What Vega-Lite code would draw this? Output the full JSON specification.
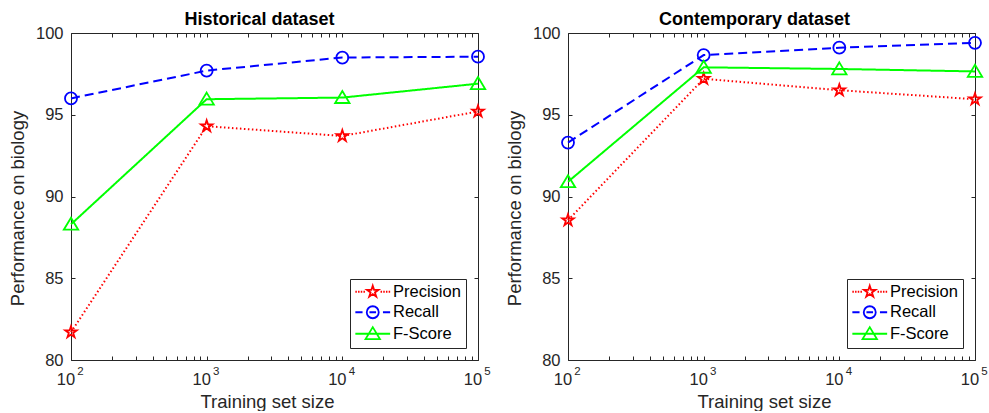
{
  "$schema": "https://vega.github.io/schema/vega-lite/v6.json",
  "background": "white",
  "padding": {"left": 7, "top": 10, "right": 0, "bottom": 0},
  "autosize": {"type": "pad"},
  "bounds": "flush",
  "spacing": 90,
  "config": {
    "font": "Liberation Sans",
    "view": {"stroke": "#262626", "strokeWidth": 1},
    "axis": {"grid": false, "domain": false, "labelFont": "Liberation Sans", "titleFont": "Liberation Sans", "labelColor": "#262626", "titleColor": "#262626", "tickColor": "#262626", "titleFontWeight": "normal", "labelOverlap": false, "labelFlush": false},
    "legend": {"title": null, "orient": "bottom-right", "offset": 12, "padding": 4.5, "strokeColor": "#262626", "fillColor": "white", "cornerRadius": 0, "labelFontSize": 16.5, "labelColor": "#000000", "labelFont": "Liberation Sans", "symbolSize": 144, "symbolStrokeWidth": 1.8, "symbolOffset": 10, "labelOffset": 12, "rowPadding": 1.5, "symbolOpacity": 1},
    "title": {"font": "Liberation Sans"}
  },
  "datasets": {
    "d": [
      {"Dataset": "Historical", "Metric": "Precision", "N": 100, "Value": 81.7},
      {"Dataset": "Historical", "Metric": "Precision", "N": 1000, "Value": 94.3},
      {"Dataset": "Historical", "Metric": "Precision", "N": 10000, "Value": 93.7},
      {"Dataset": "Historical", "Metric": "Precision", "N": 100000, "Value": 95.2},
      {"Dataset": "Historical", "Metric": "Recall", "N": 100, "Value": 96.0},
      {"Dataset": "Historical", "Metric": "Recall", "N": 1000, "Value": 97.7},
      {"Dataset": "Historical", "Metric": "Recall", "N": 10000, "Value": 98.5},
      {"Dataset": "Historical", "Metric": "Recall", "N": 100000, "Value": 98.55},
      {"Dataset": "Historical", "Metric": "F-Score", "N": 100, "Value": 88.3},
      {"Dataset": "Historical", "Metric": "F-Score", "N": 1000, "Value": 95.95},
      {"Dataset": "Historical", "Metric": "F-Score", "N": 10000, "Value": 96.05},
      {"Dataset": "Historical", "Metric": "F-Score", "N": 100000, "Value": 96.9},
      {"Dataset": "Contemporary", "Metric": "Precision", "N": 100, "Value": 88.55},
      {"Dataset": "Contemporary", "Metric": "Precision", "N": 1000, "Value": 97.2},
      {"Dataset": "Contemporary", "Metric": "Precision", "N": 10000, "Value": 96.5},
      {"Dataset": "Contemporary", "Metric": "Precision", "N": 100000, "Value": 95.95},
      {"Dataset": "Contemporary", "Metric": "Recall", "N": 100, "Value": 93.3},
      {"Dataset": "Contemporary", "Metric": "Recall", "N": 1000, "Value": 98.65},
      {"Dataset": "Contemporary", "Metric": "Recall", "N": 10000, "Value": 99.1},
      {"Dataset": "Contemporary", "Metric": "Recall", "N": 100000, "Value": 99.4},
      {"Dataset": "Contemporary", "Metric": "F-Score", "N": 100, "Value": 90.9},
      {"Dataset": "Contemporary", "Metric": "F-Score", "N": 1000, "Value": 97.9},
      {"Dataset": "Contemporary", "Metric": "F-Score", "N": 10000, "Value": 97.8},
      {"Dataset": "Contemporary", "Metric": "F-Score", "N": 100000, "Value": 97.65}
    ]
  },
  "resolve": {"legend": {"color": "independent", "shape": "independent"}},
  "hconcat": [
    {
      "width": 407,
      "height": 327,
      "title": {"text": "Historical dataset", "fontSize": 18, "fontWeight": "bold", "color": "#000000", "offset": -3.75, "anchor": "middle", "dx": -15},
      "data": {"name": "d"},
      "transform": [{"filter": "datum.Dataset === 'Historical'"}],
      "resolve": {"axis": {"x": "independent", "y": "independent"}},
      "layer": [
        {
          "mark": {"type": "line", "strokeWidth": 2},
          "encoding": {
            "x": {"field": "N", "type": "quantitative", "scale": {"type": "log", "domain": [100, 100000], "nice": false},
              "axis": {"orient": "bottom", "values": [100,200,300,400,500,600,700,800,900,1000,2000,3000,4000,5000,6000,7000,8000,9000,10000,20000,30000,40000,50000,60000,70000,80000,90000,100000], "labelExpr": "indexof([100,1000,10000,100000], datum.value) >= 0 ? '10' : ''", "labelFontSize": 16.5, "labelOffset": -5.5, "tickSize": -4, "labelPadding": 15.5, "title": "Training set size", "titleFontSize": 18.5, "titlePadding": 4, "titleX": 196}},
            "y": {"field": "Value", "type": "quantitative", "scale": {"domain": [80, 100], "nice": false, "zero": false},
              "axis": {"orient": "left", "values": [80,85,90,95,100], "labelFontSize": 16.5, "tickSize": -4, "labelPadding": 12, "title": "Performance on biology", "titleFontSize": 18.5, "titlePadding": 8, "titleY": 175}},
            "detail": {"field": "Metric", "type": "nominal"},
            "color": {"condition": [{"test": "datum.Metric === 'Precision'", "value": "#ff0000"}, {"test": "datum.Metric === 'Recall'", "value": "#0000ff"}], "value": "#00ff00"},
            "strokeDash": {"condition": [{"test": "datum.Metric === 'Precision'", "value": [1.5, 2.5]}, {"test": "datum.Metric === 'Recall'", "value": [9, 5]}], "value": [1, 0]}
          }
        },
        {
          "mark": {"type": "point", "filled": false, "opacity": 1, "strokeWidth": 1.8, "size": 144},
          "encoding": {
            "x": {"field": "N", "type": "quantitative", "axis": {"orient": "bottom", "values": [100,1000,10000,100000], "labelExpr": "datum.value == 100 ? '2' : datum.value == 1000 ? '3' : datum.value == 10000 ? '4' : '5'", "labelFontSize": 11.5, "labelOffset": 9, "ticks": false, "labelPadding": 5.2, "title": null}},
            "y": {"field": "Value", "type": "quantitative", "axis": {"orient": "right", "values": [80,85,90,95,100], "labels": false, "tickSize": -4, "title": null}},
            "color": {"condition": [{"test": "datum.Metric === 'Precision'", "value": "#ff0000"}, {"test": "datum.Metric === 'Recall'", "value": "#0000ff"}], "value": "#00ff00"},
            "shape": {"condition": [{"test": "datum.Metric === 'Precision'", "value": "M0,-1L0.2245,-0.309L0.951,-0.309L0.363,0.118L0.588,0.809L0,0.382L-0.588,0.809L-0.363,0.118L-0.951,-0.309L-0.2245,-0.309Z"}, {"test": "datum.Metric === 'Recall'", "value": "circle"}], "value": "M0,-1.1L1.2,0.9L-1.2,0.9Z"}
          }
        },
        {
          "mark": {"type": "point", "opacity": 0, "filled": false, "size": 144},
          "encoding": {
            "x": {"field": "N", "type": "quantitative", "axis": {"orient": "top", "values": [100,200,300,400,500,600,700,800,900,1000,2000,3000,4000,5000,6000,7000,8000,9000,10000,20000,30000,40000,50000,60000,70000,80000,90000,100000], "labels": false, "tickSize": -4, "title": null}},
            "y": {"field": "Value", "type": "quantitative", "axis": null},
            "color": {"field": "Metric", "type": "nominal", "scale": {"domain": ["Precision","Recall","F-Score"], "range": ["#ff0000","#0000ff","#00ff00"]}},
            "shape": {"field": "Metric", "type": "nominal", "scale": {"domain": ["Precision","Recall","F-Score"], "range": ["M-2.9,0L-2.65,0M-2.45,0L-2.2,0M-2,0L-1.75,0M-1.55,0L-1.3,0M1.3,0L1.55,0M1.75,0L2,0M2.2,0L2.45,0M2.65,0L2.9,0M0,-1L0.2245,-0.309L0.951,-0.309L0.363,0.118L0.588,0.809L0,0.382L-0.588,0.809L-0.363,0.118L-0.951,-0.309L-0.2245,-0.309Z", "M-2.9,0L-1.7,0M1.7,0L2.9,0M-0.55,0L0.55,0M1,0A1,1,0,1,1,-1,0A1,1,0,1,1,1,0Z", "M-2.9,0L2.9,0M0,-1.1L1.2,0.9L-1.2,0.9Z"]}}
          }
        }
      ]
    },
    {
      "width": 407,
      "height": 327,
      "title": {"text": "Contemporary dataset", "fontSize": 18, "fontWeight": "bold", "color": "#000000", "offset": -3.75, "anchor": "middle", "dx": -17},
      "data": {"name": "d"},
      "transform": [{"filter": "datum.Dataset === 'Contemporary'"}],
      "resolve": {"axis": {"x": "independent", "y": "independent"}},
      "layer": [
        {
          "mark": {"type": "line", "strokeWidth": 2},
          "encoding": {
            "x": {"field": "N", "type": "quantitative", "scale": {"type": "log", "domain": [100, 100000], "nice": false},
              "axis": {"orient": "bottom", "values": [100,200,300,400,500,600,700,800,900,1000,2000,3000,4000,5000,6000,7000,8000,9000,10000,20000,30000,40000,50000,60000,70000,80000,90000,100000], "labelExpr": "indexof([100,1000,10000,100000], datum.value) >= 0 ? '10' : ''", "labelFontSize": 16.5, "labelOffset": -5.5, "tickSize": -4, "labelPadding": 15.5, "title": "Training set size", "titleFontSize": 18.5, "titlePadding": 4, "titleX": 196}},
            "y": {"field": "Value", "type": "quantitative", "scale": {"domain": [80, 100], "nice": false, "zero": false},
              "axis": {"orient": "left", "values": [80,85,90,95,100], "labelFontSize": 16.5, "tickSize": -4, "labelPadding": 12, "title": "Performance on biology", "titleFontSize": 18.5, "titlePadding": 8, "titleY": 175}},
            "detail": {"field": "Metric", "type": "nominal"},
            "color": {"condition": [{"test": "datum.Metric === 'Precision'", "value": "#ff0000"}, {"test": "datum.Metric === 'Recall'", "value": "#0000ff"}], "value": "#00ff00"},
            "strokeDash": {"condition": [{"test": "datum.Metric === 'Precision'", "value": [1.5, 2.5]}, {"test": "datum.Metric === 'Recall'", "value": [9, 5]}], "value": [1, 0]}
          }
        },
        {
          "mark": {"type": "point", "filled": false, "opacity": 1, "strokeWidth": 1.8, "size": 144},
          "encoding": {
            "x": {"field": "N", "type": "quantitative", "axis": {"orient": "bottom", "values": [100,1000,10000,100000], "labelExpr": "datum.value == 100 ? '2' : datum.value == 1000 ? '3' : datum.value == 10000 ? '4' : '5'", "labelFontSize": 11.5, "labelOffset": 9, "ticks": false, "labelPadding": 5.2, "title": null}},
            "y": {"field": "Value", "type": "quantitative", "axis": {"orient": "right", "values": [80,85,90,95,100], "labels": false, "tickSize": -4, "title": null}},
            "color": {"condition": [{"test": "datum.Metric === 'Precision'", "value": "#ff0000"}, {"test": "datum.Metric === 'Recall'", "value": "#0000ff"}], "value": "#00ff00"},
            "shape": {"condition": [{"test": "datum.Metric === 'Precision'", "value": "M0,-1L0.2245,-0.309L0.951,-0.309L0.363,0.118L0.588,0.809L0,0.382L-0.588,0.809L-0.363,0.118L-0.951,-0.309L-0.2245,-0.309Z"}, {"test": "datum.Metric === 'Recall'", "value": "circle"}], "value": "M0,-1.1L1.2,0.9L-1.2,0.9Z"}
          }
        },
        {
          "mark": {"type": "point", "opacity": 0, "filled": false, "size": 144},
          "encoding": {
            "x": {"field": "N", "type": "quantitative", "axis": {"orient": "top", "values": [100,200,300,400,500,600,700,800,900,1000,2000,3000,4000,5000,6000,7000,8000,9000,10000,20000,30000,40000,50000,60000,70000,80000,90000,100000], "labels": false, "tickSize": -4, "title": null}},
            "y": {"field": "Value", "type": "quantitative", "axis": null},
            "color": {"field": "Metric", "type": "nominal", "scale": {"domain": ["Precision","Recall","F-Score"], "range": ["#ff0000","#0000ff","#00ff00"]}},
            "shape": {"field": "Metric", "type": "nominal", "scale": {"domain": ["Precision","Recall","F-Score"], "range": ["M-2.9,0L-2.65,0M-2.45,0L-2.2,0M-2,0L-1.75,0M-1.55,0L-1.3,0M1.3,0L1.55,0M1.75,0L2,0M2.2,0L2.45,0M2.65,0L2.9,0M0,-1L0.2245,-0.309L0.951,-0.309L0.363,0.118L0.588,0.809L0,0.382L-0.588,0.809L-0.363,0.118L-0.951,-0.309L-0.2245,-0.309Z", "M-2.9,0L-1.7,0M1.7,0L2.9,0M-0.55,0L0.55,0M1,0A1,1,0,1,1,-1,0A1,1,0,1,1,1,0Z", "M-2.9,0L2.9,0M0,-1.1L1.2,0.9L-1.2,0.9Z"]}}
          }
        }
      ]
    }
  ]
}
